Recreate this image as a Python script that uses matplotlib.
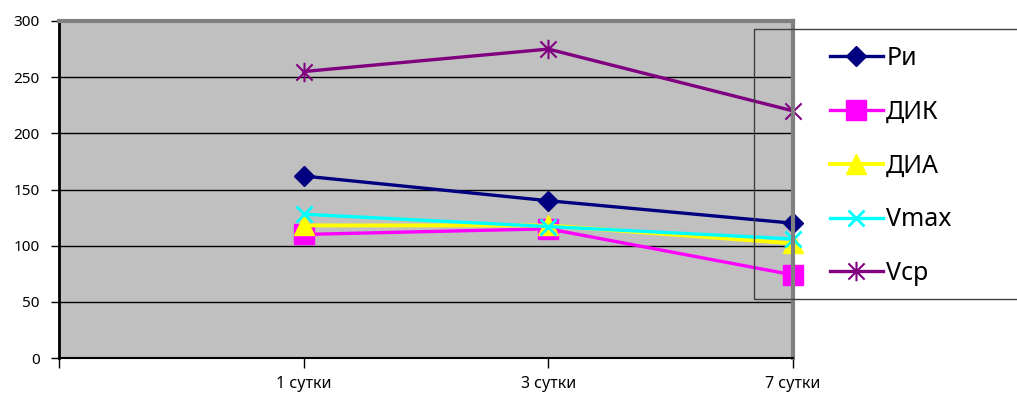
import matplotlib.pyplot as plt
from matplotlib.path import Path
from matplotlib.patches import Rectangle

plt.rcParams['font.family'] = ['Noto Sans', 'DejaVu Sans']

# categories (first slot is left empty on the axis)
days = ['', '1 сутки', '3 сутки', '7 сутки']
ri = [162, 140, 120]
dik = [110, 115, 74]
dia = [118, 118, 102]
vmax = [128, 117, 106]
vcp = [255, 275, 220]

# asterisk marker: vertical bar plus an X
star = Path([(-1, -1), (1, 1), (-1, 1), (1, -1), (0, -1.2), (0, 1.2)],
            [Path.MOVETO, Path.LINETO, Path.MOVETO, Path.LINETO, Path.MOVETO, Path.LINETO])

fig = plt.figure(figsize=(10.17, 3.94), dpi=100)
ax = fig.add_axes([59/1017, 36/394, 734/1017, 337/394])
ax.set_facecolor('#c0c0c0')

x = [1, 2, 3]
ax.plot(x, ri, color='#000080', lw=2.4, marker='D', ms=10.5, label='Ри', clip_on=False)
ax.plot(x, dik, color='#ff00ff', lw=2.4, marker='s', ms=14, label='ДИК', clip_on=False)
ax.plot(x, dia, color='#ffff00', lw=2.8, marker='^', ms=14, label='ДИА', clip_on=False)
ax.plot(x, vmax, color='#00ffff', lw=2.4, marker='x', ms=11, mew=2, label='Vmax', clip_on=False)
ax.plot(x, vcp, color='#800080', lw=2.4, marker=star, ms=14, mew=1.5, label='Vcp', clip_on=False)

ax.set_xlim(0, 3)
ax.set_ylim(0, 300)
ax.set_yticks(range(0, 301, 50))
ax.set_xticks(range(4))
ax.set_xticklabels(days, fontsize=11.5)
ax.tick_params(axis='y', labelsize=11, length=6, width=1, pad=8)
ax.tick_params(axis='x', length=7, width=1, pad=6)

ax.grid(axis='y', color='black', lw=1)
ax.set_axisbelow(True)

ax.spines['left'].set_color('black')
ax.spines['left'].set_linewidth(2)
ax.spines['bottom'].set_color('black')
ax.spines['bottom'].set_linewidth(1.5)
ax.spines['top'].set_color('#808080')
ax.spines['top'].set_linewidth(3)
ax.spines['right'].set_color('#808080')
ax.spines['right'].set_linewidth(3)

leg = ax.legend(loc='upper left', bbox_to_anchor=(830/1017, 1 - 46/394),
                bbox_transform=fig.transFigure, frameon=False, fontsize=18,
                handlelength=2.1, handletextpad=0.15, labelspacing=1.15,
                borderpad=0, borderaxespad=0)

# legend border box
fig.patches.append(Rectangle((754/1017, 1 - 299/394), 0.3, 270/394,
                             transform=fig.transFigure, fill=False,
                             edgecolor='#404040', lw=1, zorder=5))

fig.savefig('out.png', dpi=100)
